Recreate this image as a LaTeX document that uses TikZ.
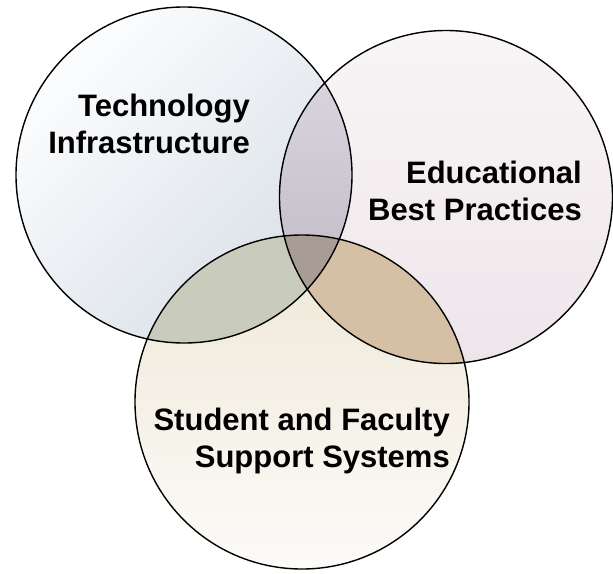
\documentclass[tikz,border=0pt]{standalone}
\usepackage{fontspec}
\setmainfont{Liberation Sans}
\usepackage{tikz}
\usetikzlibrary{positioning}
\definecolor{techtop}{HTML}{FCFDFE}
\definecolor{techbot}{HTML}{D8DFE7}
\definecolor{edutop}{HTML}{F8F5F6}
\definecolor{edubot}{HTML}{EEE5EA}
\definecolor{supptop}{HTML}{EEE7D6}
\definecolor{suppbot}{HTML}{FCFBF8}
\definecolor{lensTEtop}{HTML}{DEDAE3}
\definecolor{lensTEbot}{HTML}{B9B2BE}
\definecolor{lensTS}{HTML}{C9CBBD}
\definecolor{lensES}{HTML}{D6C0A5}
\definecolor{triple}{HTML}{A99C95}
\tikzset{
  venn/.style={circle, minimum size=#1, inner sep=0pt},
  ring/.style={draw=black, line width=1.4pt},
  label/.style={font=\fontsize{31}{37}\selectfont\bfseries, align=right, anchor=north east, inner sep=0pt}
}
\begin{document}
\begin{tikzpicture}[x=1pt, y=-1pt]
            \useasboundingbox[fill=white] (0,0) rectangle (613,573);
            % the three sets
            \node[venn=336pt, top color=techtop, bottom color=techbot, shading angle=45] (tech) at (184,175) {};
            \node[venn=334pt, top color=edutop, bottom color=edubot] (edu) at (446,197) {};
            \node[venn=334pt, top color=supptop, bottom color=suppbot] (supp) at (302,402) {};
            % overlaps
            \begin{scope}
              \clip (tech.center) circle (168pt);
              \shade[top color=lensTEtop, bottom color=lensTEbot] (edu.center) circle (167pt);
              \fill[lensTS] (supp.center) circle (167pt);
            \end{scope}
            \begin{scope}
              \clip (edu.center) circle (167pt);
              \fill[lensES] (supp.center) circle (167pt);
              \clip (tech.center) circle (168pt);
              \fill[triple] (supp.center) circle (167pt);
            \end{scope}
            % outlines
            \draw[ring] (tech.center) circle (168pt)
              (edu.center) circle (166.5pt)
              (supp.center) circle (167pt);
            % labels
            \node[label] (techtxt) at (250,94) {Technology\\Infrastructure};
            \node[label] (edutxt) at (582,161) {Educational\\Best Practices};
            \node[label] (supptxt) at (450,408) {Student and Faculty\\Support Systems};
        \end{tikzpicture}
\end{document}
